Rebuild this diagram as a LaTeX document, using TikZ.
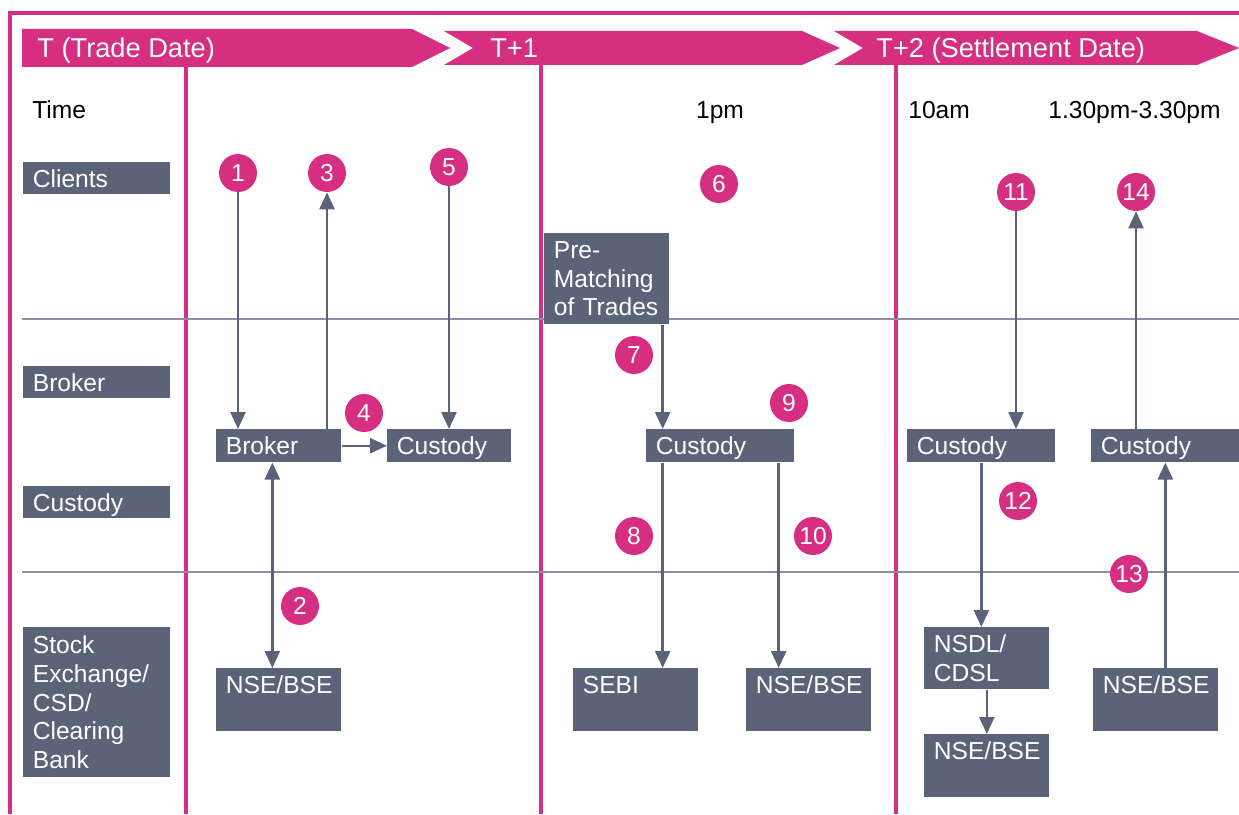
\documentclass[tikz,border=0pt]{standalone}
\usepackage{fontspec}
\setmainfont{Liberation Sans}
\usetikzlibrary{positioning, arrows.meta}

\definecolor{trademag}{RGB}{214,47,129}
\definecolor{slate}{RGB}{91,99,120}
\definecolor{laneline}{RGB}{138,143,163}
\newcommand{\diagfont}{\fontsize{14}{16.4}\selectfont}
\newcommand{\bannerfont}{\fontsize{15.5}{18}\selectfont}
\newcommand{\numfont}{\fontsize{14}{14}\selectfont}

\begin{document}
\begin{tikzpicture}[
    x=0.02cm, y=-0.02cm,
    box/.style={rectangle, fill=slate, text=white, font=\diagfont, anchor=north west, inner xsep=0.19cm, inner ysep=0.1cm, align=left},
    one/.style={box, text width=#1, text height=11.3pt, text depth=1.7pt},
    tall/.style={box, text width=#1, text height=11.3pt, text depth=18.7pt},
    multi/.style={box, text width=2.12cm, minimum height=#1},
    lane/.style={box, text width=2.56cm, text height=11.3pt, text depth=0.8pt},
    num/.style={circle, fill=trademag, text=white, minimum size=0.76cm, inner sep=0pt, font=\numfont},
    arrow/.style={-{Triangle[length=0.34cm, width=0.3cm]}, line width=0.05cm, draw=slate},
    both/.style={arrow, {Triangle[length=0.34cm, width=0.3cm]}-{Triangle[length=0.34cm, width=0.3cm]}},
    banner/.style={fill=trademag},
    bannertext/.style={text=white, font=\bannerfont, anchor=base west, inner sep=0pt},
    timetext/.style={font=\diagfont, anchor=base west, inner sep=0pt},
    day/.style={draw=trademag, line width=0.09cm},
    laneline/.style={draw=laneline, line width=0.04cm}
]
    \useasboundingbox (0,0) rectangle (1239,814);

    % Frame and day separators
    \draw[day, line width=0.08cm] (8,13) -- (1239,13);
    \draw[day, line width=0.08cm] (10,13) -- (10,814);
    \draw[day] (186,67) -- (186,814);
    \draw[day] (541,65) -- (541,814);
    \draw[day] (896,65) -- (896,814);

    % Lane separators
    \draw[laneline] (22,319) -- (1239,319);
    \draw[laneline] (22,572) -- (1239,572);

    % Header banners
    \fill[banner] (22,29) -- (412,29) -- (450,48) -- (412,67) -- (22,67) -- cycle;
    \fill[banner] (444,31) -- (802,31) -- (840,48) -- (802,65) -- (444,65) -- (473,48) -- cycle;
    \fill[banner] (834,31) -- (1197,31) -- (1239,48) -- (1197,65) -- (834,65) -- (863,48) -- cycle;
    \node[bannertext] (tday) at (37,58) {T (Trade Date)};
    \node[bannertext] (tplus1) at (490,58) {T+1};
    \node[bannertext] (tplus2) at (876,58) {T+2 (Settlement Date)};

    % Time row
    \node[timetext] (time) at (32,119) {Time};
    \node[timetext, anchor=base] (onepm) at (720,119) {1pm};
    \node[timetext] (tenam) at (908,119) {10am};
    \node[timetext] (window) at (1048,119) {1.30pm-3.30pm};

    % Lane labels
    \node[lane] (lclients) at (23,162) {Clients};
    \node[lane] (lbroker) at (23,366) {Broker};
    \node[lane] (lcustody) at (23,486) {Custody};
    \node[box, text width=2.56cm, minimum height=3.0cm] (lstock) at (23,627) {Stock\\Exchange/\\CSD/\\Clearing\\Bank};

    % T
    \node[one=2.12cm] (broker) at (216,429) {Broker};
    \node[one=2.1cm] (custT) at (387,429) {Custody};
    \node[tall=2.12cm] (nseT) at (216,668) {NSE/BSE};

    % T+1
    \node[multi=1.82cm] (prematch) at (544,233) {Pre-\\Matching\\of Trades};
    \node[one=2.58cm] (custM) at (646,429) {Custody};
    \node[tall=2.12cm] (sebi) at (573,668) {SEBI};
    \node[tall=2.12cm] (nseM) at (746,668) {NSE/BSE};

    % T+2
    \node[one=2.58cm] (custA) at (907,429) {Custody};
    \node[one=2.58cm] (custB) at (1091,429) {Custody};
    \node[multi=1.24cm] (nsdl) at (924,627) {NSDL/\\CDSL};
    \node[tall=2.12cm] (nseA) at (924,734) {NSE/BSE};
    \node[tall=2.12cm] (nseB) at (1093,668) {NSE/BSE};

    % Step numbers
    \node[num] (n1) at (238,173) {1};
    \node[num] (n2) at (300,606) {2};
    \node[num] (n3) at (327,173) {3};
    \node[num] (n4) at (364,413) {4};
    \node[num] (n5) at (449,167) {5};
    \node[num] (n6) at (719,184) {6};
    \node[num] (n7) at (634,355) {7};
    \node[num] (n8) at (634,536) {8};
    \node[num] (n9) at (789,403) {9};
    \node[num] (n10) at (813,536) {10};
    \node[num] (n11) at (1016,192) {11};
    \node[num] (n12) at (1018,501) {12};
    \node[num] (n13) at (1129,574) {13};
    \node[num] (n14) at (1136,192) {14};

    % Flows
    \coordinate (x2) at ([xshift=-0.13cm]broker.south);
    \coordinate (x7) at ([xshift=-0.14cm]prematch.south east);
    \coordinate (x10) at ([xshift=-0.32cm]custM.south east);
    \draw[arrow] (n1.south) -- (n1.south |- broker.north);
    \draw[both] (x2) -- (x2 |- nseT.north);
    \draw[arrow] (broker.north -| n3) -- (n3.south);
    \draw[arrow] (broker.east) -- (custT.west);
    \draw[arrow] (n5.south) -- (n5.south |- custT.north);
    \draw[arrow] (x7) -- (x7 |- custM.north);
    \draw[arrow] (x7 |- custM.south) -- (x7 |- sebi.north);
    \draw[arrow] (x10) -- (x10 |- nseM.north);
    \draw[arrow] (n11.south) -- (n11.south |- custA.north);
    \draw[arrow] (custA.south) -- (custA.south |- nsdl.north);
    \draw[arrow] (nsdl.south) -- (nseA.north);
    \draw[arrow] (nseB.north -| custB.south) -- (custB.south);
    \draw[arrow] (custB.north -| n14) -- (n14.south);

\end{tikzpicture}
\end{document}
